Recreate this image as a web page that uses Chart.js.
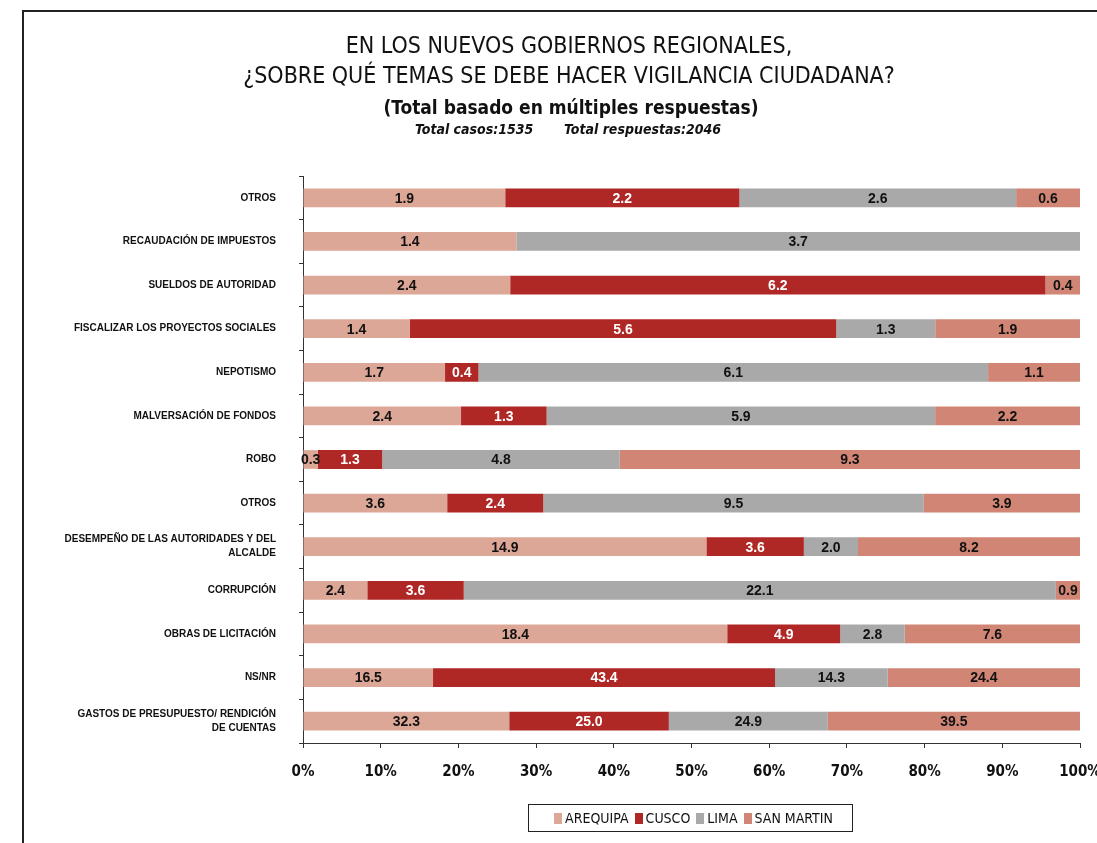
<!DOCTYPE html>
<html>
<head>
<meta charset="utf-8">
<script src="https://cdn.jsdelivr.net/npm/chart.js@4"></script>
<style>
  body { margin: 0; background: #fff; }
  #frame { position: absolute; left: 22px; top: 10px; width: 1090px; height: 840px;
           border-left: 2px solid #222; border-top: 2px solid #222; }
  #wrap { position: absolute; left: 0; top: 0; width: 1097px; height: 843px; }
  .narrow { font-family: "Liberation Sans Narrow", "DejaVu Sans Condensed", "Liberation Sans", sans-serif; font-stretch: condensed; }
  #t1 { position: absolute; left: 0; width: 1138px; top: 30px; text-align: center; font-size: 23px; line-height: 30px; color: #111; }
  #t2 { position: absolute; left: 0; width: 1142px; top: 96px; text-align: center; font-size: 19px; font-weight: bold; color: #111; }
  #t3 { position: absolute; left: 0; width: 1136px; top: 121px; text-align: center; font-size: 14px; font-weight: bold; font-style: italic; color: #111; }
  #legend { position: absolute; left: 528px; top: 804px; width: 323px; height: 26px; border: 1.5px solid #222;
            display: flex; align-items: center; justify-content: center; font-size: 14px; color: #111; }
  #legend span.sw { display: inline-block; width: 8px; height: 11px; margin: 0 3px 0 6px; }
</style>
</head>
<body>
<div id="frame"></div>
<div id="wrap"><canvas id="chart" width="1097" height="843"></canvas></div>
<div id="t1" class="narrow">EN LOS NUEVOS GOBIERNOS REGIONALES,<br>¿SOBRE QUÉ TEMAS SE DEBE HACER VIGILANCIA CIUDADANA?</div>
<div id="t2" class="narrow">(Total basado en múltiples respuestas)</div>
<div id="t3" class="narrow">Total casos:1535&nbsp;&nbsp;&nbsp;&nbsp;&nbsp;&nbsp;&nbsp;Total respuestas:2046</div>
<div id="legend" class="narrow"></div>
<script>
var categories = [
  'OTROS',
  'RECAUDACIÓN DE IMPUESTOS',
  'SUELDOS DE AUTORIDAD',
  'FISCALIZAR LOS PROYECTOS SOCIALES',
  'NEPOTISMO',
  'MALVERSACIÓN DE FONDOS',
  'ROBO',
  'OTROS',
  ['DESEMPEÑO DE LAS AUTORIDADES Y DEL', 'ALCALDE'],
  'CORRUPCIÓN',
  'OBRAS DE LICITACIÓN',
  'NS/NR',
  ['GASTOS DE PRESUPUESTO/ RENDICIÓN', 'DE CUENTAS']
];
var arequipa  = [1.9, 1.4, 2.4, 1.4, 1.7, 2.4, 0.3, 3.6, 14.9, 2.4, 18.4, 16.5, 32.3];
var cusco     = [2.2, 0,   6.2, 5.6, 0.4, 1.3, 1.3, 2.4, 3.6,  3.6, 4.9,  43.4, 25.0];
var lima      = [2.6, 3.7, 0,   1.3, 6.1, 5.9, 4.8, 9.5, 2.0,  22.1, 2.8, 14.3, 24.9];
var sanMartin = [0.6, 0,   0.4, 1.9, 1.1, 2.2, 9.3, 3.9, 8.2,  0.9, 7.6,  24.4, 39.5];
var xTicks = [0, 10, 20, 30, 40, 50, 60, 70, 80, 90, 100];

var seriesNames = ['AREQUIPA', 'CUSCO', 'LIMA', 'SAN MARTIN'];
var seriesValues = [arequipa, cusco, lima, sanMartin];
var colors = ['#dca796', '#b02826', '#a9a9a9', '#d08575'];
var labelColors = ['#111', '#fff', '#111', '#111'];

// row totals -> share of each region (100% stacked)
var totals = categories.map(function(c, i) {
  return arequipa[i] + cusco[i] + lima[i] + sanMartin[i];
});

var datasets = seriesValues.map(function(vals, s) {
  return {
    label: seriesNames[s],
    raw: vals,
    data: vals.map(function(v, i) { return v / totals[i] * 100; }),
    backgroundColor: colors[s],
    borderWidth: 0,
    barPercentage: 0.43,
    categoryPercentage: 1
  };
});

// legend (html, boxed like the original)
var leg = document.getElementById('legend');
seriesNames.forEach(function(n, i) {
  leg.innerHTML += '<span class="sw" style="background:' + colors[i] + '"></span>' + n;
});

// value labels centred on each segment
var valueLabels = {
  id: 'valueLabels',
  afterDatasetsDraw: function(chart) {
    var ctx = chart.ctx;
    ctx.save();
    ctx.font = 'bold 14px "Liberation Sans", Arial, sans-serif';
    ctx.textAlign = 'center';
    ctx.textBaseline = 'middle';
    chart.data.datasets.forEach(function(ds, s) {
      chart.getDatasetMeta(s).data.forEach(function(bar, i) {
        var v = ds.raw[i];
        if (!v) return;
        var cx = (bar.x + bar.base) / 2;
        ctx.fillStyle = labelColors[s];
        ctx.fillText(v.toFixed(1), cx, bar.y + 1);
      });
    });
    ctx.restore();
  }
};

var ctx = document.getElementById('chart').getContext('2d');
var chart = new Chart(ctx, {
  type: 'bar',
  data: { labels: categories, datasets: datasets },
  options: {
    indexAxis: 'y',
    responsive: false,
    animation: false,
    devicePixelRatio: 1,
    layout: { padding: { left: 0, right: 17, top: 176, bottom: 47 } },
    plugins: { legend: { display: false }, tooltip: { enabled: false } },
    scales: {
      x: {
        stacked: true,
        min: 0, max: 100,
        afterBuildTicks: function(scale) {
          scale.ticks = xTicks.map(function(v) { return { value: v }; });
        },
        afterFit: function(scale) { scale.paddingLeft = 0; scale.paddingRight = 0; },
        ticks: {
          callback: function(v) { return v + '%'; },
          color: '#111',
          padding: 15,
          maxRotation: 0,
          // "condensed" rides along in the css font shorthand
          font: { family: '"DejaVu Sans", sans-serif', size: 15, weight: 'bold condensed' }
        },
        grid: { drawOnChartArea: false, color: '#333', tickLength: 5 },
        border: { color: '#333', width: 1 }
      },
      y: {
        stacked: true,
        afterFit: function(scale) { scale.width = 303; },
        ticks: {
          color: '#111',
          padding: 23,
          autoSkip: false,
          font: { family: '"Liberation Sans", Arial, sans-serif', size: 10, weight: 'bold', lineHeight: 1.4 }
        },
        grid: { drawOnChartArea: false, offset: true, color: '#333', tickLength: 4 },
        border: { color: '#333', width: 1 }
      }
    }
  },
  plugins: [valueLabels]
});
</script>
</body>
</html>
